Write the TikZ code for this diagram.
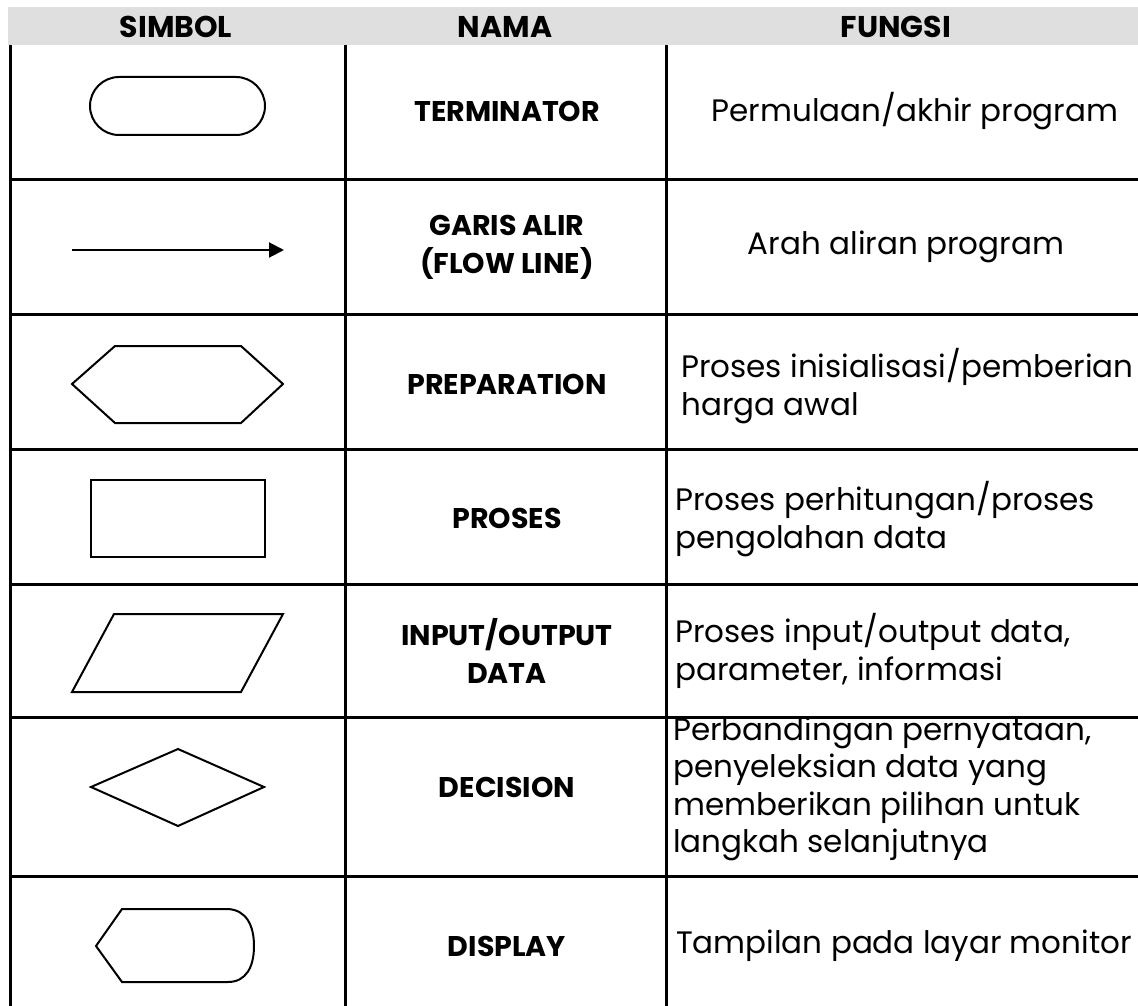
\documentclass[tikz,border=0pt]{standalone}
\usepackage{fontspec}
\newfontfamily\gothic{Poppins}
\usetikzlibrary{arrows.meta}
\begin{document}
\begin{tikzpicture}[x=1pt,y=-1pt,
  grid/.style={line width=3pt, black},
  shp/.style={line width=2pt, black, line join=miter},
  hdr/.style={font=\gothic\bfseries\fontsize{30}{36}\selectfont, inner sep=0pt},
  nama/.style={font=\gothic\bfseries\fontsize{28.5}{38}\selectfont, align=center, inner sep=0pt},
  fungsi/.style={font=\gothic\fontsize{31}{37.5}\selectfont, align=left, inner sep=0pt, anchor=west},
  fungsic/.style={font=\gothic\fontsize{31}{37.5}\selectfont, align=center, inner sep=0pt}
]
\useasboundingbox (0,0) rectangle (1138,1006);
\fill[white] (0,0) rectangle (1138,1006);
% header band
\fill[gray!25] (8,7) rectangle (1138,45);
\node[hdr] (hs) at (176,27) {SIMBOL};
\node[hdr] (hn) at (505,27) {NAMA};
\node[hdr] (hf) at (896,27) {FUNGSI};
% grid
\draw[grid] (10,45) -- (10,1006);
\draw[grid] (345,45) -- (345,1006);
\draw[grid] (666,45) -- (666,1006);
\foreach \yy in {179,314,449,584,717,876} \draw[grid] (10,\yy) -- (1138,\yy);
% symbols
\draw[shp, rounded corners=29pt] (90,77) rectangle (265,135);
\coordinate (a1) at (72,250);
\coordinate (a2) at (284,250);
\draw[line width=2pt, -{Triangle[length=15pt,width=15pt]}] (a1) -- (a2);
\draw[shp] (72,384) -- (115,346) -- (241,346) -- (283,384) -- (241,423) -- (115,423) -- cycle;
\draw[shp] (91,480) rectangle (265,557);
\draw[shp] (114,614) -- (283,614) -- (241,692) -- (72,692) -- cycle;
\draw[shp] (178,749) -- (264,787) -- (178,826) -- (91,787) -- cycle;
\draw[shp] (96,946) -- (122,909) -- (228,909) .. controls (246,910) and (254,925) .. (254,946) .. controls (254,967) and (246,982) .. (228,982) -- (122,982) -- cycle;
% names
\node[nama] (n1) at (507,111) {TERMINATOR};
\node[nama] (n2) at (507,247) {GARIS ALIR\\(FLOW LINE)};
\node[nama] (n3) at (507,384) {PREPARATION};
\node[nama] (n4) at (507,518) {PROSES};
\node[nama] (n5) at (507,651) {INPUT/OUTPUT\\DATA};
\node[nama] (n6) at (507,787) {DECISION};
\node[nama] (n7) at (507,946) {DISPLAY};
% functions
\node[fungsic] (f1) at (915,111) {Permulaan/akhir program};
\node[fungsic] (f2) at (906,247) {Arah aliran program};
\node[fungsi] (f3) at (681,386) {Proses inisialisasi/pemberian\\harga awal};
\node[fungsi] (f4) at (675,519) {Proses perhitungan/proses\\pengolahan data};
\node[fungsi] (f5) at (675,651) {Proses input/output data,\\parameter, informasi};
\node[fungsi] (f6) at (673,789) {Perbandingan pernyataan,\\penyeleksian data yang\\memberikan pilihan untuk\\langkah selanjutnya};
\node[fungsic] (f7) at (904,946) {Tampilan pada layar monitor};
\end{tikzpicture}
\end{document}
